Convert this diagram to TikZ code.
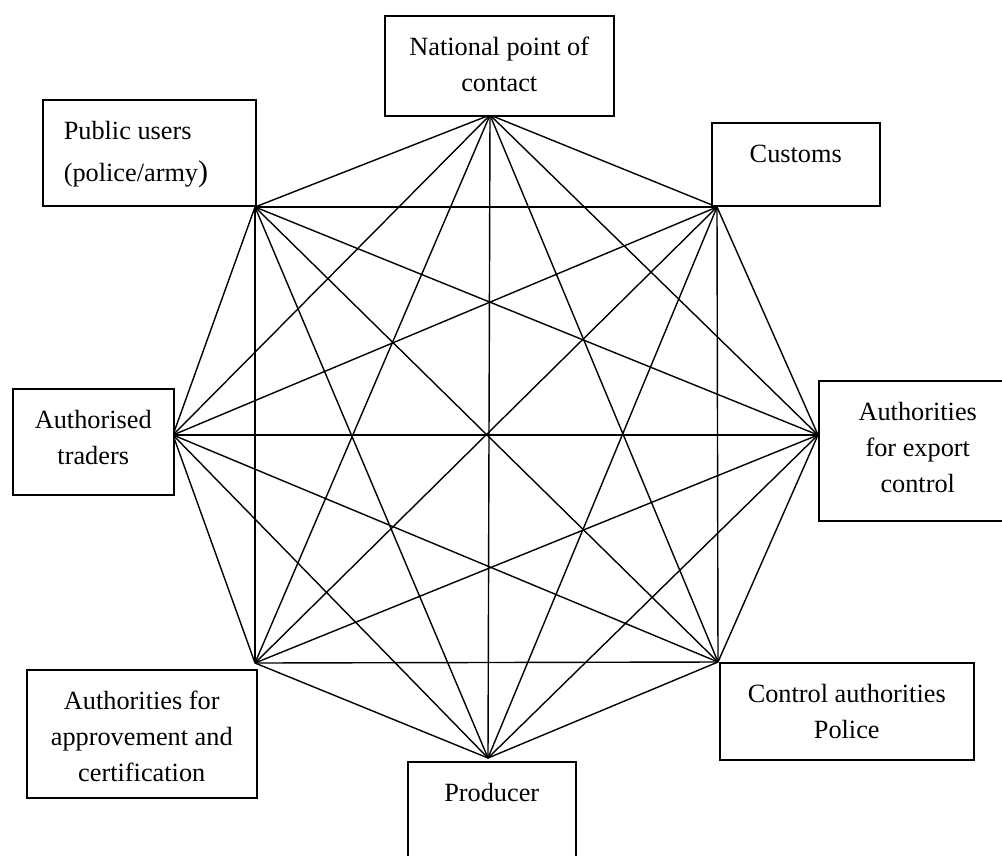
\documentclass[tikz,border=0pt]{standalone}
\usepackage{fontspec}
\setmainfont{Liberation Serif}
\usepackage{tikz}
\usetikzlibrary{calc, positioning}

\newcommand{\partybox}[4][\centering]{\parbox[t][#3][t]{#2}{#1\rule{0pt}{40pt}#4}}

\tikzset{
    party/.style={draw, line width=1.5pt, fill=white, anchor=north west, inner sep=0pt,
                  font=\fontsize{26.3}{36}\selectfont},
    link/.style={line width=1.4pt}
}

\begin{document}
\begin{tikzpicture}[x=1pt, y=-1pt]
    \useasboundingbox (0,0) rectangle (1002,855);

    % corners of the octagon
    \coordinate (v1) at (490,115);
    \coordinate (v2) at (717,207);
    \coordinate (v3) at (818,435);
    \coordinate (v4) at (718,662);
    \coordinate (v5) at (488,758);
    \coordinate (v6) at (255,663);
    \coordinate (v7) at (173,435);
    \coordinate (v8) at (255,207);

    \foreach\i in {1,...,7}
    {
        \pgfmathtruncatemacro\k{\i+1}
        \foreach\j in {\k,...,8}
            \draw[link] (v\i) -- (v\j);
    }

    \node[party] (npc) at (384,15)  {\partybox{229pt}{100pt}{National point of\\contact}};
    \node[party] (pub) at (42,99)   {\partybox[\raggedright\leftskip=21pt]{213pt}{106pt}{Public users\\[6pt](police/army{\fontsize{30}{36}\selectfont )}}};
    \node[party] (cus) at (711,122) {\partybox{168pt}{83pt}{Customs}};
    \node[party] (aut) at (12,388)  {\partybox{161pt}{106pt}{Authorised\\traders}};
    \node[party] (exp) at (818,380) {\partybox{198pt}{140pt}{Authorities\\for export\\control}};
    \node[party] (ctl) at (719,662) {\partybox{254pt}{97pt}{Control authorities\\Police}};
    \node[party] (prd) at (407,761) {\partybox{168pt}{110pt}{Producer}};
    \node[party] (apc) at (26,669)  {\partybox{230pt}{128pt}{Authorities for\\approvement and\\certification}};
\end{tikzpicture}
\end{document}
